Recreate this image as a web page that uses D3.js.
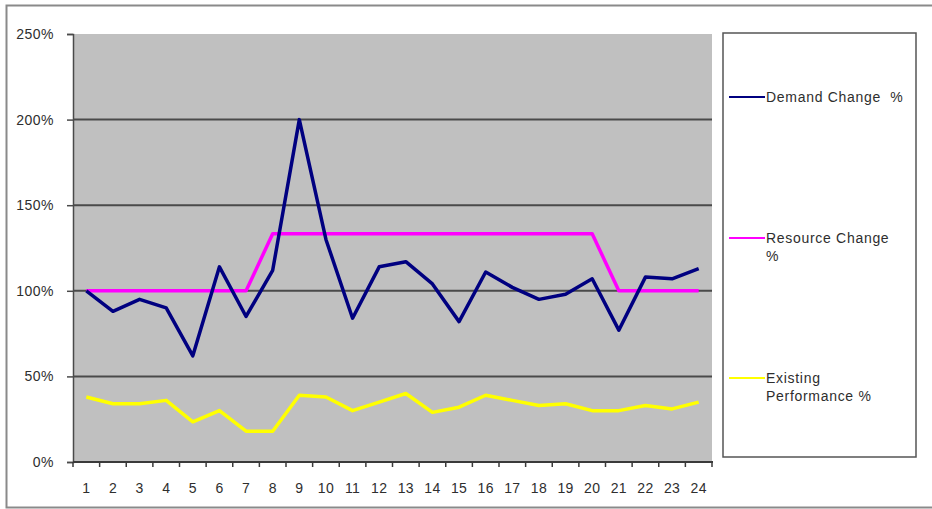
<!DOCTYPE html>
<html>
<head>
<meta charset="utf-8">
<script src="https://cdn.jsdelivr.net/npm/d3@7"></script>
<style>
  html, body { margin: 0; padding: 0; background: #fff; }
  svg { display: block; font-family: "Liberation Sans", Arial, sans-serif; }
</style>
</head>
<body>
<svg id="chart" width="932" height="509"></svg>
<script>
// Periods along the x axis
const periods = d3.range(1, 25).map(String);

// Series values, in percent
const demandChange = [100, 88, 95, 90, 62, 114, 85, 112, 200, 130, 84, 114,
                      117, 104, 82, 111, 102, 95, 98, 107, 77, 108, 107, 113];
const resourceChange = [100, 100, 100, 100, 100, 100, 100, 133.3, 133.3, 133.3, 133.3, 133.3,
                        133.3, 133.3, 133.3, 133.3, 133.3, 133.3, 133.3, 133.3, 100, 100, 100, 100];
const existingPerformance = [38, 34, 34, 36, 23.5, 30, 18, 18, 39, 38, 30, 35,
                             40, 29, 32, 39, 36, 33, 34, 30, 30, 33, 31, 35];

// Y axis ticks
const yTicks = [0, 50, 100, 150, 200, 250];

const seriesNames = ["Demand Change  %", "Resource Change %", "Existing Performance %"];
const seriesColors = ["#000080", "#ff00ff", "#ffff00"];
const seriesValues = [demandChange, resourceChange, existingPerformance];

const textColor = "#2e2e2e";
const svg = d3.select("#chart");

// Outer chart frame
svg.append("rect")
  .attr("x", 6.5).attr("y", 5.5)
  .attr("width", 940).attr("height", 502)
  .attr("fill", "#fff")
  .attr("stroke", "#8a8a8a").attr("stroke-width", 2);

const plot = { left: 73, top: 34, right: 712, bottom: 462 };

const x = d3.scaleBand()
  .domain(periods)
  .range([plot.left, plot.right])
  .paddingInner(0).paddingOuter(0);

const y = d3.scaleLinear()
  .domain([0, 250])
  .range([plot.bottom, plot.top]);

// Plot area background
svg.append("rect")
  .attr("x", plot.left).attr("y", plot.top)
  .attr("width", plot.right - plot.left).attr("height", plot.bottom - plot.top)
  .attr("fill", "#c0c0c0");

// Horizontal gridlines
svg.append("g")
  .selectAll("line")
  .data(yTicks.filter(d => d > 0 && d < 250))
  .join("line")
  .attr("x1", plot.left).attr("x2", plot.right)
  .attr("y1", d => y(d)).attr("y2", d => y(d))
  .attr("stroke", "#4a4a4a").attr("stroke-width", 2);

// Y axis
const yAxis = svg.append("g")
  .attr("transform", `translate(${plot.left},0)`)
  .call(d3.axisLeft(y).tickValues(yTicks).tickFormat(d => d + "%").tickSize(6).tickPadding(13));
yAxis.select(".domain").attr("stroke", "#4a4a4a").attr("stroke-width", 1.5);
yAxis.selectAll(".tick line").attr("stroke", "#4a4a4a").attr("stroke-width", 1.5);
yAxis.selectAll(".tick text")
  .attr("font-size", 14).attr("fill", textColor)
  .attr("letter-spacing", 0.5)
  .attr("font-family", "\"Liberation Sans\", Arial, sans-serif");

// X axis: ticks sit on the band boundaries, labels in the band centres
const xAxisG = svg.append("g").attr("transform", `translate(0,${plot.bottom})`);
xAxisG.append("line")
  .attr("x1", plot.left).attr("x2", plot.right + 1)
  .attr("stroke", "#3a3a3a").attr("stroke-width", 2);
xAxisG.selectAll("line.tick")
  .data(periods.concat(["end"]))
  .join("line")
  .attr("class", "tick")
  .attr("x1", (d, i) => plot.left + i * x.bandwidth())
  .attr("x2", (d, i) => plot.left + i * x.bandwidth())
  .attr("y1", 0).attr("y2", 5)
  .attr("stroke", "#3a3a3a").attr("stroke-width", 1.5);
xAxisG.selectAll("text")
  .data(periods)
  .join("text")
  .attr("x", d => x(d) + x.bandwidth() / 2)
  .attr("y", 31)
  .attr("text-anchor", "middle")
  .attr("font-size", 14).attr("fill", textColor)
  .attr("letter-spacing", 0.3)
  .text(d => d);

// Series lines
const line = d3.line()
  .x((d, i) => x(periods[i]) + x.bandwidth() / 2)
  .y(d => y(d));

svg.append("g")
  .selectAll("path")
  .data([2, 1, 0])
  .join("path")
  .attr("d", k => line(seriesValues[k]))
  .attr("fill", "none")
  .attr("stroke", k => seriesColors[k])
  .attr("stroke-width", 3.5)
  .attr("stroke-linejoin", "round");

// Legend
const legend = { left: 723, top: 33, right: 916, bottom: 457 };
svg.append("rect")
  .attr("x", legend.left).attr("y", legend.top)
  .attr("width", legend.right - legend.left).attr("height", legend.bottom - legend.top)
  .attr("fill", "#fff")
  .attr("stroke", "#555").attr("stroke-width", 1.5);

const legendRows = [
  { y: 97, lines: ["Demand Change  %"] },
  { y: 238, lines: ["Resource Change", "%"] },
  { y: 378, lines: ["Existing", "Performance %"] }
];

const items = svg.append("g")
  .selectAll("g")
  .data(legendRows)
  .join("g")
  .attr("transform", d => `translate(0,${d.y})`);

items.append("line")
  .attr("x1", 729).attr("x2", 765)
  .attr("stroke", (d, i) => seriesColors[i])
  .attr("stroke-width", 2);

items.append("text")
  .attr("x", 766)
  .attr("y", 5)
  .attr("font-size", 14).attr("fill", textColor)
  .attr("letter-spacing", 0.7)
  .style("white-space", "pre")
  .selectAll("tspan")
  .data(d => d.lines)
  .join("tspan")
  .attr("x", 766)
  .attr("dy", (d, i) => i === 0 ? 0 : 18)
  .text(d => d);
</script>
</body>
</html>
